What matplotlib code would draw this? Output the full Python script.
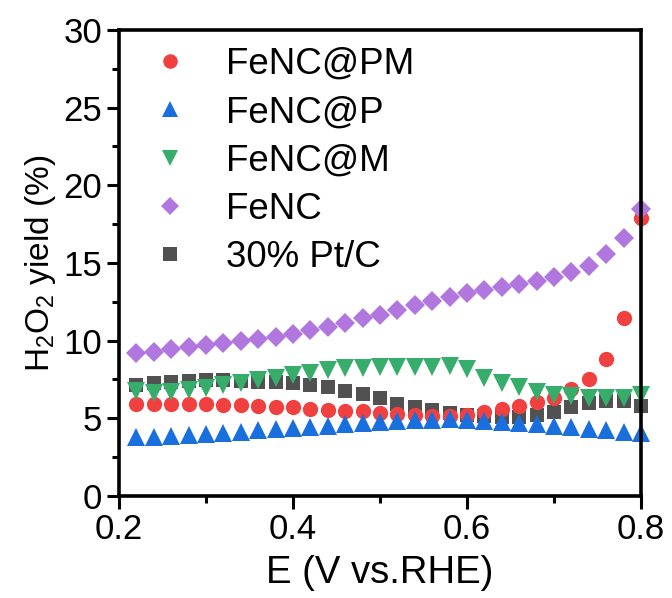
import numpy as np
import matplotlib
matplotlib.use('Agg')
import matplotlib.pyplot as plt
from matplotlib.ticker import MultipleLocator

plt.rcParams['font.family'] = ['Liberation Sans', 'DejaVu Sans']
plt.rcParams['mathtext.fontset'] = 'custom'
plt.rcParams['mathtext.rm'] = 'Liberation Sans'

# potential (V vs. RHE)
E = np.round(np.arange(0.22, 0.801, 0.02), 2)

fenc_pm = [5.92, 5.92, 5.92, 5.92, 5.9, 5.85, 5.85, 5.8, 5.75, 5.7,
           5.6, 5.55, 5.5, 5.45, 5.35, 5.28, 5.22, 5.17, 5.17, 5.22,
           5.43, 5.58, 5.8, 6.07, 6.33, 6.87, 7.53, 8.8, 11.44, 17.9]
fenc_p = [3.82, 3.82, 3.86, 3.93, 3.99, 4.08, 4.14, 4.25, 4.29, 4.4,
          4.46, 4.53, 4.62, 4.68, 4.75, 4.85, 4.89, 4.89, 4.94, 4.89,
          4.85, 4.78, 4.72, 4.62, 4.5, 4.42, 4.29, 4.25, 4.14, 4.08]
fenc_m = [6.76, 6.65, 6.7, 6.83, 6.93, 7.15, 7.3, 7.47, 7.62, 7.79,
          7.94, 8.11, 8.22, 8.26, 8.27, 8.29, 8.33, 8.33, 8.37, 8.16,
          7.62, 7.26, 7.0, 6.72, 6.5, 6.44, 6.29, 6.29, 6.29, 6.5]
fenc = [9.19, 9.29, 9.44, 9.57, 9.72, 9.83, 9.98, 10.13, 10.26, 10.41,
        10.69, 10.9, 11.12, 11.48, 11.65, 12.0, 12.3, 12.55, 12.83, 13.05,
        13.26, 13.44, 13.63, 13.86, 14.08, 14.44, 14.83, 15.56, 16.63, 18.5]
ptc = [7.15, 7.3, 7.36, 7.43, 7.47, 7.47, 7.43, 7.36, 7.36, 7.3,
       7.15, 7.0, 6.78, 6.55, 6.29, 5.95, 5.71, 5.54, 5.37, 5.22,
       5.15, 5.07, 5.07, 5.22, 5.43, 5.71, 6.0, 6.14, 6.14, 5.8]

fig = plt.figure(figsize=(6.72, 5.98), dpi=100)
ax = fig.add_axes([0.177, 0.1706, 0.777, 0.7794])

ax.plot(E, fenc_pm, 'o', color='#F14040', ms=11, mew=0, label='FeNC@PM', clip_on=False)
ax.plot(E, fenc_p, '^', color='#1A6FDF', ms=12.5, mew=0, label='FeNC@P', clip_on=False)
ax.plot(E, fenc_m, 'v', color='#37AD6B', ms=12.5, mew=0, label='FeNC@M', clip_on=False)
ax.plot(E, fenc, 'D', color='#B177DE', ms=10, mew=0, label='FeNC', clip_on=False)
ax.plot(E, ptc, 's', color='#515151', ms=10, mew=0, label='30% Pt/C', clip_on=False, zorder=1.9)

ax.set_xlim(0.2, 0.8)
ax.set_ylim(0, 30)
ax.xaxis.set_major_locator(MultipleLocator(0.2))
ax.xaxis.set_minor_locator(MultipleLocator(0.1))
ax.yaxis.set_major_locator(MultipleLocator(5))
ax.yaxis.set_minor_locator(MultipleLocator(2.5))
ax.tick_params(which='major', direction='out', length=9, width=2.2, labelsize=25, pad=3)
ax.tick_params(which='minor', direction='out', length=5, width=2.2)
for s in ax.spines.values():
    s.set_linewidth(2.6)

ax.set_xlabel('E (V vs.RHE)', fontsize=27.5, labelpad=7)
ax.set_ylabel('H$_2$O$_2$ yield (%)', fontsize=24, labelpad=4)

leg = ax.legend(loc='upper left', bbox_to_anchor=(0.035, 0.995), frameon=False,
                fontsize=26.5, handlelength=1.0, handletextpad=1.0,
                labelspacing=0.36, borderaxespad=0.0, markerscale=0.95)

fig.savefig('out.png', dpi=100)
